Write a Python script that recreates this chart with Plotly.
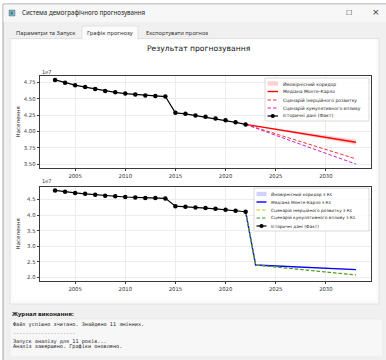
import plotly.graph_objects as go

# ---------------- data ----------------
SCALE = 1e7
hist_years = list(range(2003, 2023))
hist_pop = [47900000, 47450000, 47100000, 46800000, 46500000, 46200000, 46000000,
            45800000, 45660000, 45500000, 45450000, 45350000, 42850000, 42700000,
            42450000, 42240000, 42000000, 41700000, 41400000, 41080000]

fc_years = list(range(2022, 2034))
# top panel (no Ks)
median_top = [41080000, 40830000, 40580000, 40330000, 40080000, 39840000,
              39590000, 39350000, 39100000, 38850000, 38600000, 38350000]
upper_top = [41080000, 40890000, 40680000, 40470000, 40260000, 40050000,
             39830000, 39620000, 39410000, 39190000, 38980000, 38760000]
lower_top = [41080000, 40780000, 40490000, 40200000, 39910000, 39630000,
             39350000, 39070000, 38790000, 38510000, 38230000, 37950000]
inertial_top = [41080000, 40600000, 40120000, 39640000, 39160000, 38680000,
                38200000, 37720000, 37240000, 36760000, 36280000, 35800000]
cumulative_top = [41080000, 40500000, 39950000, 39400000, 38850000, 38300000,
                  37750000, 37200000, 36650000, 36100000, 35550000, 35000000]
# bottom panel (with Ks)
median_bot = [41080000, 24000000, 23860000, 23720000, 23580000, 23440000,
              23300000, 23160000, 23020000, 22880000, 22740000, 22550000]
upper_bot = [41080000, 24030000, 23900000, 23770000, 23640000, 23510000,
             23380000, 23250000, 23120000, 22990000, 22860000, 22720000]
lower_bot = [41080000, 23970000, 23820000, 23670000, 23520000, 23370000,
             23220000, 23070000, 22920000, 22770000, 22620000, 22400000]
inertial_bot = [41080000, 24000000, 23690000, 23380000, 23070000, 22760000,
                22450000, 22140000, 21830000, 21520000, 21210000, 20900000]
cumulative_bot = [41080000, 24000000, 23680000, 23360000, 23040000, 22720000,
                  22400000, 22080000, 21760000, 21440000, 21120000, 20800000]

top_labels = ["Ймовірнісний коридор", "Медіана Монте-Карло",
              "Сценарій інерційного розвитку", "Сценарій кумулятивного впливу",
              "Історичні дані (Факт)"]
bot_labels = ["Ймовірнісний коридор з Кs", "Медіана Монте-Карло з Кs",
              "Сценарій інерційного розвитку з Кs", "Сценарій кумулятивного впливу з Кs",
              "Історичні дані (Факт)"]

top_ticks = [3.50, 3.75, 4.00, 4.25, 4.50, 4.75]
bot_ticks = [2.0, 2.5, 3.0, 3.5, 4.0, 4.5]
x_ticks = [2005, 2010, 2015, 2020, 2025, 2030]

log_lines = ["Файл успішно зчитано. Знайдено 11 змінних.",
             "--------------------",
             "Запуск аналізу для 11 років...",
             "Аналіз завершено. Графіки оновлено."]

# ---------------- geometry helpers ----------------
W, H = 386, 360
def fx(p): return p / W
def fy(p): return 1 - p / H

def s(vals): return [v / SCALE for v in vals]

FONT = "DejaVu Sans"
UI = "Noto Sans"

band_top = "rgba(255,0,0,0.18)"
band_bot = "rgba(0,0,255,0.18)"
styles_top = [("band", band_top, None, None),
              ("line", "red", "solid", 1.4),
              ("line", "#ff3030", "3.5px,2px", 1.0),
              ("line", "#cc22cc", "3.5px,2px", 1.0),
              ("hist", "black", "solid", 1.2)]
styles_bot = [("band", band_bot, None, None),
              ("line", "blue", "solid", 1.4),
              ("line", "#c8c800", "3.5px,2px", 1.0),
              ("line", "#3a9a3a", "3.5px,2px", 1.0),
              ("hist", "black", "solid", 1.2)]

fig = go.Figure()

def add_panel(xa, ya, up, lo, med, ine, cum, styles):
    fig.add_trace(go.Scatter(x=fc_years + fc_years[::-1], y=s(up) + s(lo)[::-1],
                             fill="toself", fillcolor=styles[0][1], line=dict(width=0),
                             mode="lines", xaxis=xa, yaxis=ya, hoverinfo="skip"))
    for vals, st in ((med, styles[1]), (ine, styles[2]), (cum, styles[3])):
        fig.add_trace(go.Scatter(x=fc_years, y=s(vals), mode="lines",
                                 line=dict(color=st[1], dash=st[2], width=st[3]),
                                 xaxis=xa, yaxis=ya))
    fig.add_trace(go.Scatter(x=hist_years, y=s(hist_pop), mode="lines+markers",
                             line=dict(color="black", width=1.2),
                             marker=dict(size=4.5, color="black"),
                             xaxis=xa, yaxis=ya))

add_panel("x", "y", upper_top, lower_top, median_top, inertial_top, cumulative_top, styles_top)
add_panel("x2", "y2", upper_bot, lower_bot, median_bot, inertial_bot, cumulative_bot, styles_bot)

shapes = []
ann = []

# ---------------- window chrome ----------------
shapes.append(dict(type="rect", xref="paper", yref="paper", x0=fx(3), x1=fx(390), y0=fy(364), y1=fy(4),
                   fillcolor="#f0f0f0", line=dict(color="#8a8a8a", width=0.8), layer="below"))
shapes.append(dict(type="rect", xref="paper", yref="paper", x0=fx(3.5), x1=fx(390), y0=fy(22), y1=fy(4.5),
                   fillcolor="#f7f7f7", line=dict(width=0), layer="below"))
# icon
shapes.append(dict(type="rect", xref="paper", yref="paper", x0=fx(9), x1=fx(15), y0=fy(16), y1=fy(10),
                   fillcolor="#7fb0e0", line=dict(color="#557", width=0.4), layer="below"))
shapes.append(dict(type="rect", xref="paper", yref="paper", x0=fx(10.5), x1=fx(13), y0=fy(14.5), y1=fy(11.5),
                   fillcolor="#3c9a3c", line=dict(width=0), layer="below"))
ann.append(dict(text="Система демографічного прогнозування", x=fx(20), y=fy(13), xanchor="left",
                yanchor="middle", font=dict(family=UI, size=6.2, color="#222")))
ann.append(dict(text="☐", x=fx(349), y=fy(13), xanchor="center", yanchor="middle",
                font=dict(family="DejaVu Sans", size=7, color="#333")))
ann.append(dict(text="×", x=fx(376), y=fy(12.5), xanchor="center", yanchor="middle",
                font=dict(family="DejaVu Sans", size=9, color="#333")))
# tabs
shapes.append(dict(type="rect", xref="paper", yref="paper", x0=fx(10), x1=fx(379), y0=fy(304), y1=fy(38.5),
                   fillcolor="#fbfbfb", line=dict(color="#dcdcdc", width=0.8), layer="below"))
shapes.append(dict(type="rect", xref="paper", yref="paper", x0=fx(82), x1=fx(138), y0=fy(39), y1=fy(26),
                   fillcolor="#fbfbfb", line=dict(color="#dcdcdc", width=0.8), layer="below"))
shapes.append(dict(type="rect", xref="paper", yref="paper", x0=fx(82.6), x1=fx(137.4), y0=fy(40), y1=fy(37),
                   fillcolor="#fbfbfb", line=dict(width=0), layer="below"))
# figure canvas
shapes.append(dict(type="rect", xref="paper", yref="paper", x0=fx(13), x1=fx(376), y0=fy(300), y1=fy(40.5),
                   fillcolor="white", line=dict(width=0), layer="below"))
for txt, cx in (("Параметри та Запуск", 46), ("Графік прогнозу", 110), ("Експортувати прогноз", 177)):
    ann.append(dict(text=txt, x=fx(cx), y=fy(32.5), xanchor="center", yanchor="middle",
                    font=dict(family=UI, size=5.8, color="#333")))

# log area
ann.append(dict(text="<b>Журнал виконання:</b>", x=fx(10), y=fy(314), xanchor="left", yanchor="middle",
                font=dict(family=UI, size=6, color="#111")))
shapes.append(dict(type="rect", xref="paper", yref="paper", x0=fx(10), x1=fx(383), y0=fy(357), y1=fy(319),
                   fillcolor="#f7f7f7", line=dict(color="#e6e6e6", width=0.6), layer="below"))
for txt, yy, col in zip(log_lines, (324.5, 332.5, 341, 346.5), ("#222", "#777", "#223", "#222")):
    ann.append(dict(text=txt, x=fx(11), y=fy(yy), xanchor="left", yanchor="middle",
                    font=dict(family="DejaVu Sans Mono", size=5.2, color=col)))

# chart texts
ann.append(dict(text="Результат прогнозування", x=fx(198), y=fy(49), xanchor="center", yanchor="middle",
                font=dict(family=FONT, size=7.6, color="#111")))
for yy, cy in ((72, 122), (181, 234)):
    ann.append(dict(text="1e7", x=fx(40), y=fy(yy), xanchor="left", yanchor="middle",
                    font=dict(family=FONT, size=5, color="#333")))
    ann.append(dict(text="Населення", x=fx(17.5), y=fy(cy), xanchor="center", yanchor="middle",
                    textangle=-90, font=dict(family=FONT, size=5.5, color="#222")))

# ---------------- manual legends ----------------
def legend(labels, styles, box, rows, sw0, sw1, tx, fs):
    shapes.append(dict(type="rect", xref="paper", yref="paper", x0=fx(box[0]), x1=fx(box[2]),
                       y0=fy(box[3]), y1=fy(box[1]), fillcolor="rgba(255,255,255,0.85)",
                       line=dict(color="#d0d0d0", width=0.8), layer="above"))
    for lab, st, ry in zip(labels, styles, rows):
        kind, col, dash, wd = st
        if kind == "band":
            shapes.append(dict(type="rect", xref="paper", yref="paper", x0=fx(sw0), x1=fx(sw1),
                               y0=fy(ry + 2.2), y1=fy(ry - 2.2), fillcolor=col, line=dict(width=0),
                               layer="above"))
        else:
            shapes.append(dict(type="line", xref="paper", yref="paper", x0=fx(sw0), x1=fx(sw1),
                               y0=fy(ry), y1=fy(ry), line=dict(color=col, width=wd, dash=dash),
                               layer="above"))
            if kind == "hist":
                c = (sw0 + sw1) / 2
                shapes.append(dict(type="circle", xref="paper", yref="paper", x0=fx(c - 2.1),
                                   x1=fx(c + 2.1), y0=fy(ry + 2.1), y1=fy(ry - 2.1),
                                   fillcolor="black", line=dict(width=0), layer="above"))
        ann.append(dict(text=lab, x=fx(tx), y=fy(ry), xanchor="left", yanchor="middle",
                        font=dict(family=FONT, size=fs, color="#222")))

legend(top_labels, styles_top, (265, 78, 369, 121), (83.5, 91.5, 100, 108, 116), 267.5, 278, 281, 4.5)
legend(bot_labels, styles_bot, (254, 188, 369, 231), (194, 202, 210, 218, 226), 256.5, 266.5, 269, 4.3)

for a in ann:
    a.update(xref="paper", yref="paper", showarrow=False)

axis_common = dict(showline=True, mirror=True, linecolor="#3a3a3a", linewidth=0.8,
                   showgrid=True, gridcolor="#ececec", gridwidth=0.7, zeroline=False,
                   ticks="outside", ticklen=2.5, tickwidth=0.7, tickcolor="#3a3a3a",
                   tickfont=dict(family=FONT, size=5.3, color="#333"))

fig.update_layout(
    width=W, height=H, margin=dict(l=0, r=0, t=0, b=0),
    paper_bgcolor="#ffffff", plot_bgcolor="white", showlegend=False,
    xaxis=dict(domain=[fx(40), fx(371)], range=[2001.5, 2034.5], tickvals=x_ticks, anchor="y", **axis_common),
    yaxis=dict(domain=[fy(168), fy(76)], range=[3.44, 4.85], tickvals=top_ticks, tickformat=".2f",
               anchor="x", **axis_common),
    xaxis2=dict(domain=[fx(40), fx(371)], range=[2001.5, 2034.5], tickvals=x_ticks, anchor="y2", **axis_common),
    yaxis2=dict(domain=[fy(281), fy(187)], range=[1.89, 4.90], tickvals=bot_ticks, tickformat=".1f",
                anchor="x2", **axis_common),
    shapes=shapes, annotations=ann,
)

fig.write_html("out.html", config={"displayModeBar": False},
               post_script="document.body.style.margin='0';document.body.style.overflow='hidden';")
